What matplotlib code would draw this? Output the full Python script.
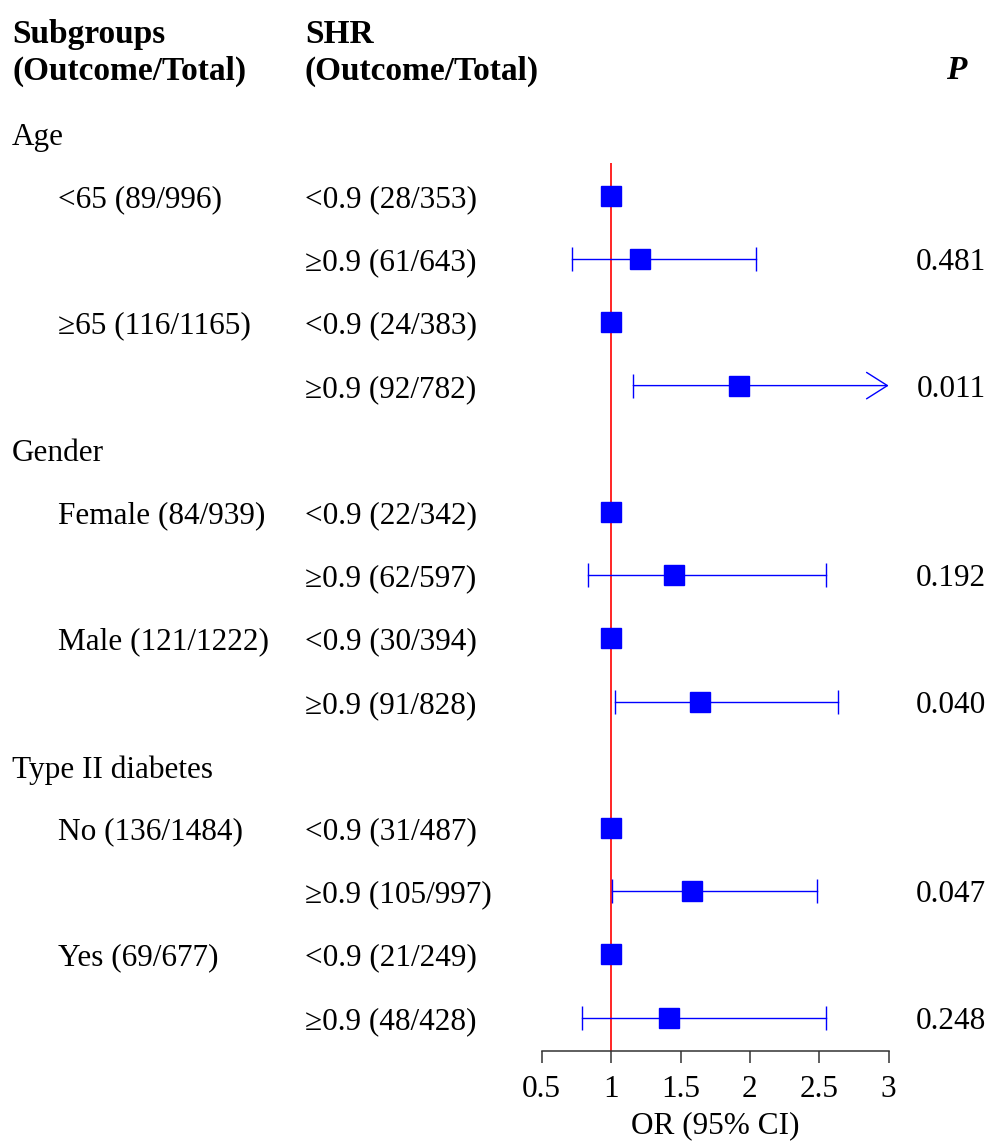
import numpy as np
import matplotlib.pyplot as plt
from matplotlib import transforms

plt.rcParams["font.family"] = ["Liberation Serif", "DejaVu Serif"]

groups = ["Age", "Gender", "Type II diabetes"]
subgroups = [
    "<65 (89/996)", "\u226565 (116/1165)",
    "Female (84/939)", "Male (121/1222)",
    "No (136/1484)", "Yes (69/677)",
]
shr_labels = [
    "<0.9 (28/353)", "\u22650.9 (61/643)", "<0.9 (24/383)", "\u22650.9 (92/782)",
    "<0.9 (22/342)", "\u22650.9 (62/597)", "<0.9 (30/394)", "\u22650.9 (91/828)",
    "<0.9 (31/487)", "\u22650.9 (105/997)", "<0.9 (21/249)", "\u22650.9 (48/428)",
]
or_vals = [1.0, 1.21, 1.0, 1.92, 1.0, 1.455, 1.0, 1.643, 1.0, 1.583, 1.0, 1.415]
ci_low = [np.nan, 0.716, np.nan, 1.16, np.nan, 0.834, np.nan, 1.026, np.nan, 1.006, np.nan, 0.788]
# upper CI of the >=65 / >=0.9 row runs off the scale (drawn as an arrow)
ci_high = [np.nan, 2.046, np.nan, 3.4, np.nan, 2.548, np.nan, 2.632, np.nan, 2.483, np.nan, 2.546]
p_vals = ["", "0.481", "", "0.011", "", "0.192", "", "0.040", "", "0.047", "", "0.248"]

W, H = 992, 1144
XMIN, XMAX = 0.5, 3.0
BLUE = "#0000ff"
FS = 22.5
FS_BOLD = 24
DY = 0.06  # text sits a touch below the marker centre


def main():
    fig = plt.figure(figsize=(W / 100, H / 100), dpi=100)
    # row r sits at pixel 132.8 + 63.2 * r
    r_bottom = (1050.5 - 132.8) / 63.2
    r_top = -132.8 / 63.2
    ax = fig.add_axes([541.7 / W, 1 - 1050.5 / H, (888.7 - 541.7) / W, 1050.5 / H])
    ax.set_xlim(XMIN, XMAX)
    ax.set_ylim(r_bottom, r_top)
    for s in ["top", "left", "right"]:
        ax.spines[s].set_visible(False)
    ax.spines["bottom"].set_linewidth(1.1)
    ax.spines["bottom"].set_color("0.2")
    ax.set_yticks([])
    ax.set_xticks([0.5, 1, 1.5, 2, 2.5, 3])
    ax.set_xticklabels(["0.5", "1", "1.5", "2", "2.5", "3"])
    ax.tick_params(axis="x", direction="out", length=8.5, width=1.1, color="0.2",
                   labelsize=FS, pad=9)
    ax.set_xlabel("OR (95% CI)", fontsize=FS, labelpad=5)

    tr = transforms.blended_transform_factory(fig.transFigure, ax.transData)

    # column headers
    ax.text(12 / W, -1.55, "Subgroups", transform=tr, fontsize=FS_BOLD, fontweight="bold",
            va="center", ha="left")
    ax.text(12 / W, -0.97, "(Outcome/Total)", transform=tr, fontsize=FS_BOLD, fontweight="bold",
            va="center", ha="left")
    ax.text(305 / W, -1.55, "SHR", transform=tr, fontsize=FS_BOLD, fontweight="bold",
            va="center", ha="left")
    ax.text(305 / W, -0.97, "(Outcome/Total)", transform=tr, fontsize=FS_BOLD, fontweight="bold",
            va="center", ha="left")
    ax.text(956 / W, -0.99, "P", transform=tr, fontsize=FS_BOLD, fontweight="bold",
            fontstyle="italic", va="center", ha="center")

    rows = []
    r = 0
    for g, name in enumerate(groups):
        ax.text(12 / W, r + DY + 0.02, name, transform=tr, fontsize=FS, va="center", ha="left")
        for k in range(2):
            sub_idx = 2 * g + k
            ax.text(58 / W, r + 1 + 2 * k + DY, subgroups[sub_idx], transform=tr, fontsize=FS,
                    va="center", ha="left")
            rows.extend([r + 1 + 2 * k, r + 2 + 2 * k])
        r += 5
    rows = np.array(rows, dtype=float)

    for i, y in enumerate(rows):
        ax.text(305 / W, y + DY, shr_labels[i], transform=tr, fontsize=FS, va="center", ha="left")
        if p_vals[i]:
            ax.text(986 / W, y + DY, p_vals[i], transform=tr, fontsize=FS, va="center", ha="right")

        lo, hi = ci_low[i], ci_high[i]
        if not np.isnan(lo):
            ax.plot([lo], [y], marker="|", ms=17, mew=1.0, color=BLUE, zorder=3)
            if hi <= XMAX:
                ax.plot([lo, hi], [y, y], color=BLUE, lw=1.0, zorder=3)
                ax.plot([hi], [y], marker="|", ms=17, mew=1.0, color=BLUE, zorder=3)
            else:
                ax.annotate("", xy=(XMAX, y), xytext=(lo, y),
                            arrowprops=dict(arrowstyle="->,head_length=1.5,head_width=0.95",
                                            color=BLUE, lw=1.0, shrinkA=0, shrinkB=0,
                                            mutation_scale=10),
                            zorder=3, annotation_clip=False)

    ax.vlines(1.0, (163 - 132.8) / 63.2, r_bottom, color="#ff0000", lw=1.2, zorder=2)
    ax.plot(or_vals, rows, ls="none", marker="s", ms=14.4, color=BLUE, mec=BLUE, zorder=4,
            clip_on=False)

    fig.savefig("out.png", dpi=100)


if __name__ == "__main__":
    main()
